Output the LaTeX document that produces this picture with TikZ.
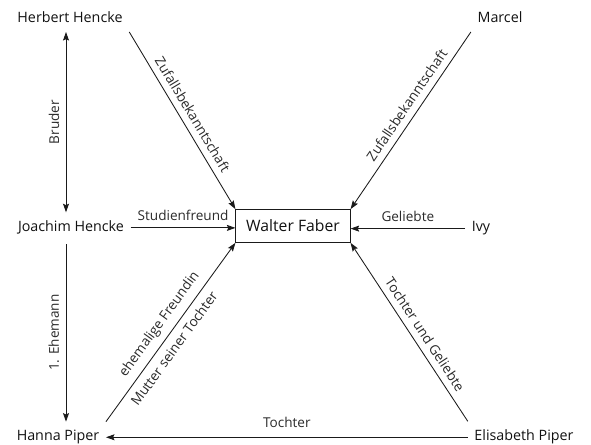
\documentclass[tikz,border=0pt]{standalone}
\usepackage{fontspec}
\setmainfont{Open Sans}
\usepackage{tikz}
\usetikzlibrary{positioning,arrows.meta,calc}
\definecolor{wfLine}{HTML}{1A1A1A}
\definecolor{wfText}{HTML}{111111}
\definecolor{wfMuted}{HTML}{2A2A2A}

\begin{document}
\begin{tikzpicture}[
  x=0.7pt, y=0.7pt,
  font=\fontsize{10}{12}\selectfont,
  person/.style={
    anchor=base, text=wfText,
    inner xsep=4.5pt, inner ysep=6pt
  },
  hub/.style={
    rectangle, draw=wfLine, line width=0.6pt,
    minimum width=80pt, minimum height=23pt,
    font=\fontsize{11}{13}\selectfont, text=wfText
  },
  rel/.style={
    -{Stealth[length=6pt,width=4.2pt,inset=1pt]},
    draw=wfLine, line width=0.6pt
  },
  relrev/.style={
    rel, {Stealth[length=6pt,width=4.2pt,inset=1pt]}-
  },
  relboth/.style={
    rel, {Stealth[length=6pt,width=4.2pt,inset=1pt]}-{Stealth[length=6pt,width=4.2pt,inset=1pt]}
  },
  % labels sit on the lines, turned with them
  lbl/.style={
    font=\fontsize{9.5}{11}\selectfont, text=wfMuted,
    sloped, inner sep=4.5pt
  }
]
\useasboundingbox (0,0) rectangle (591,445);

% ---- people ---------------------------------------------------------------
\node[hub] (faber) at (293,219) {Walter Faber};

\node[person] (herbert)   at (70,422)  {Herbert Hencke};
\node[person] (marcel)    at (500,422) {Marcel};
\node[person] (joachim)   at (71,213)  {Joachim Hencke};
\node[person] (ivy)       at (481,213) {Ivy};
\node[person] (hanna)     at (58,4)    {Hanna Piper};
\node[person] (elisabeth) at (524,4)   {Elisabeth Piper};

\coordinate (col) at (66,0);

% ---- relations ------------------------------------------------------------
% vertical ones run upwards so that their labels read bottom to top
\draw[relboth] (col |- joachim.north) -- node[lbl, above] {Bruder} (col |- herbert.south);
\draw[relrev] (col |- hanna.north) -- node[lbl, above] {1. Ehemann} (col |- joachim.south);

\draw[rel] (herbert.south east) -- node[lbl, above] {Zufallsbekanntschaft} (faber.north west);
\draw[rel] (marcel.south west)  -- node[lbl, above, pos=0.45] {Zufallsbekanntschaft} (faber.north east);

\draw[rel] (joachim.east) -- node[lbl, above] {Studienfreund} (joachim.east -| faber.west);
\draw[rel] (ivy.west)     -- node[lbl, above] {Geliebte}      (ivy.west -| faber.east);

\draw[rel] (hanna.north east)
  -- node[lbl, above] {ehemalige Freundin}
     node[lbl, below, pos=0.45] {Mutter seiner Tochter} (faber.south west);
\draw[rel] (elisabeth.north west) -- node[lbl, above, pos=0.45] {Tochter und Geliebte} (faber.south east);

\draw[rel] (elisabeth.west) -- node[lbl, above, inner sep=6.5pt] {Tochter} (elisabeth.west -| hanna.east);

\end{tikzpicture}
\end{document}
